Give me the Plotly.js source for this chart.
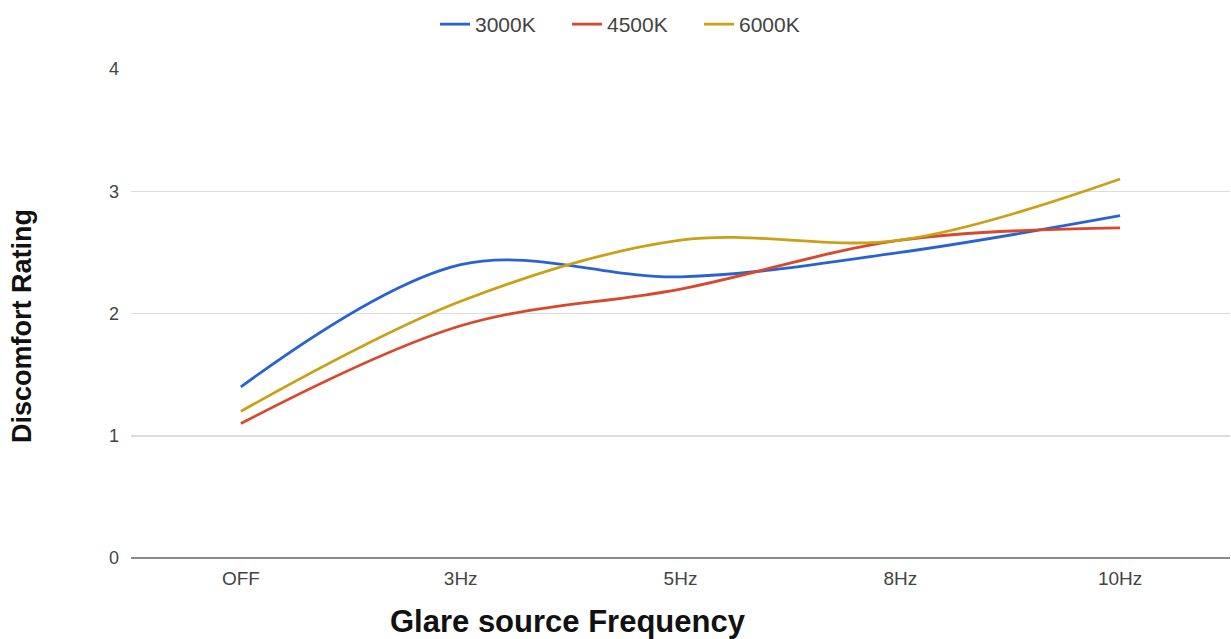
<!DOCTYPE html>
<html>
<head>
<meta charset="utf-8">
<script src="https://cdn.plot.ly/plotly-3.0.1.min.js"></script>
<style>
  html, body { margin: 0; padding: 0; background: #fff; }
  #chart { width: 1231px; height: 639px; }
</style>
</head>
<body>
<div id="chart"></div>
<script>
// Frequency categories along the x axis
const categories = ["OFF", "3Hz", "5Hz", "8Hz", "10Hz"];

// Mean discomfort rating per colour temperature
const seriesNames = ["3000K", "4500K", "6000K"];
const rating3000K = [1.4, 2.4, 2.3, 2.5, 2.8];
const rating4500K = [1.1, 1.9, 2.2, 2.6, 2.7];
const rating6000K = [1.2, 2.1, 2.6, 2.6, 3.1];

const yTicks = [0, 1, 2, 3, 4];

const colors = ["#2a62d2", "#d8482c", "#c9a116"];
const values = [rating3000K, rating4500K, rating6000K];

const traces = values.map((v, i) => ({
  type: "scatter",
  mode: "lines",
  name: seriesNames[i],
  x: categories,
  y: v,
  line: { color: colors[i], width: 2.8, shape: "spline", smoothing: 1 },
  hoverinfo: "x+y+name"
}));

const plotLeft = 131, plotRight = 1230, plotTop = 69, plotBottom = 558;

const layout = {
  width: 1231,
  height: 639,
  paper_bgcolor: "#ffffff",
  plot_bgcolor: "#ffffff",
  margin: { l: plotLeft, r: 1231 - plotRight, t: plotTop, b: 639 - plotBottom },
  font: { family: "Liberation Sans, Arial, sans-serif", color: "#444" },
  showlegend: true,
  legend: {
    orientation: "h",
    x: (435 - plotLeft) / (plotRight - plotLeft),
    xanchor: "left",
    xref: "paper",
    y: 1 - 4 / 639,
    yref: "container",
    yanchor: "top",
    font: { size: 21, color: "#444" },
    itemwidth: 30,
    entrywidth: 87,
    entrywidthmode: "pixels",
    bgcolor: "rgba(0,0,0,0)"
  },
  xaxis: {
    type: "category",
    categoryarray: categories,
    range: [-0.5, categories.length - 0.5],
    showgrid: false,
    zeroline: false,
    showline: false,
    ticks: "",
    ticklabelstandoff: 7,
    tickfont: { size: 19, color: "#444" },
    fixedrange: true
  },
  yaxis: {
    range: [0, 4],
    tickvals: yTicks,
    ticktext: yTicks.map(String),
    showgrid: true,
    gridcolor: "#dcdcdc",
    gridwidth: 1.5,
    zeroline: true,
    zerolinecolor: "#8a8a8a",
    zerolinewidth: 2,
    showline: false,
    ticks: "",
    ticklabelstandoff: 11,
    tickfont: { size: 18, color: "#444" },
    fixedrange: true
  },
  annotations: [
    {
      text: "<b>Glare source Frequency</b>",
      xref: "paper", yref: "paper",
      x: (568 - plotLeft) / (plotRight - plotLeft), y: 0,
      xanchor: "center", yanchor: "middle",
      yshift: -(621 - plotBottom),
      showarrow: false,
      font: { family: "Liberation Sans, Arial, sans-serif", size: 31, color: "#111" }
    },
    {
      text: "<b>Discomfort Rating</b>",
      xref: "paper", yref: "paper",
      x: 0, y: (plotBottom - 326) / (plotBottom - plotTop),
      xanchor: "center", yanchor: "middle",
      xshift: -(plotLeft - 22),
      textangle: -90,
      showarrow: false,
      font: { family: "Liberation Sans, Arial, sans-serif", size: 27, color: "#111" }
    }
  ]
};

Plotly.newPlot("chart", traces, layout, { displayModeBar: false, staticPlot: true });
</script>
</body>
</html>
